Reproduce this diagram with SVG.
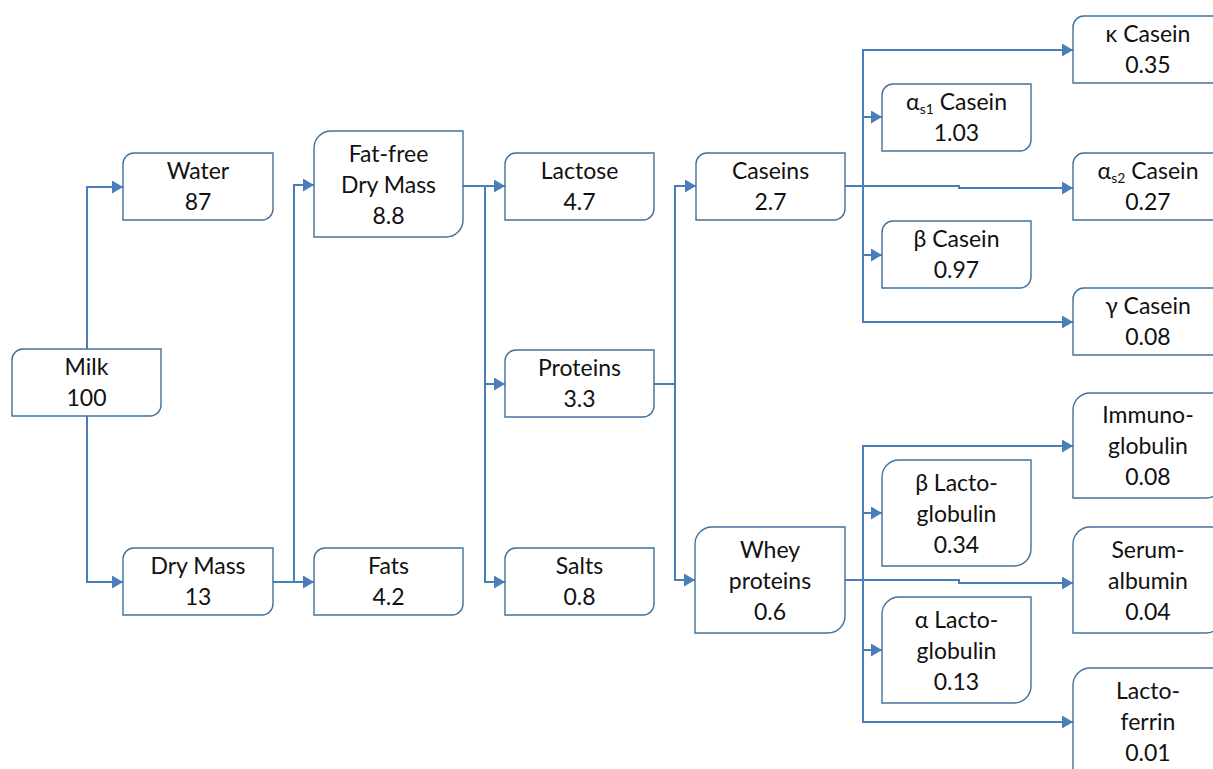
<svg xmlns="http://www.w3.org/2000/svg" width="1213" height="769" viewBox="0 0 1213 769">
<defs>
<style>
.box{fill:#fff;stroke:#41719c;stroke-width:1.4}
.t{font-family:Lato,"DejaVu Sans",sans-serif;font-size:23px;fill:#111;text-anchor:middle}
.sub{font-size:14px}
.c{fill:none;stroke:#4a7ebb;stroke-width:2}
.a{marker-end:url(#arr)}
</style>
<marker id="arr" markerUnits="userSpaceOnUse" markerWidth="12" markerHeight="14" refX="11" refY="6.5" orient="auto">
<path d="M0,0 L11,6.5 L0,13 z" fill="#4a7ebb"/>
</marker>
</defs>
<rect width="1213" height="769" fill="#fff"/>
<g id="connectors">
<path class="c a" d="M87,349 V187 H123"/>
<path class="c a" d="M87,416 V582 H123"/>
<path class="c a" d="M273,582 H294 V185 H314"/>
<path class="c a" d="M273,582 H314"/>
<path class="c a" d="M463,186 H505"/>
<path class="c a" d="M485,186 V384 H505"/>
<path class="c a" d="M485,186 V582 H505"/>
<path class="c a" d="M654,384 H675 V186 H696"/>
<path class="c a" d="M675,384 V580 H695"/>
<path class="c a" d="M845,186 H863 V50 H1073"/>
<path class="c a" d="M863,117 H882"/>
<path class="c a" d="M845,186 H959 V188 H1073"/>
<path class="c a" d="M863,255 H882"/>
<path class="c a" d="M863,186 V322 H1073"/>
<path class="c a" d="M845,580 H863 V446 H1073"/>
<path class="c a" d="M863,513 H882"/>
<path class="c a" d="M845,580 H959 V583 H1073"/>
<path class="c a" d="M863,650 H882"/>
<path class="c a" d="M863,580 V722 H1073"/>
</g>
<g id="milk"><path class="box" d="M23,349 H161 V405 A11,11 0 0 1 150,416 H12 V360 A11,11 0 0 1 23,349 Z"/>
<text class="t" x="86.5" y="375">Milk</text><text class="t" x="86.5" y="406">100</text></g>
<g id="water"><path class="box" d="M134,153 H273 V209 A11,11 0 0 1 262,220 H123 V164 A11,11 0 0 1 134,153 Z"/>
<text class="t" x="198" y="179">Water</text><text class="t" x="198" y="210">87</text></g>
<g id="drymass"><path class="box" d="M134,548 H273 V604 A11,11 0 0 1 262,615 H123 V559 A11,11 0 0 1 134,548 Z"/>
<text class="t" x="198" y="574">Dry Mass</text><text class="t" x="198" y="605">13</text></g>
<g id="fatfree"><path class="box" d="M331,131 H463 V220 A17,17 0 0 1 446,237 H314 V148 A17,17 0 0 1 331,131 Z"/>
<text class="t" x="388.5" y="162">Fat-free</text><text class="t" x="388.5" y="193">Dry Mass</text><text class="t" x="388.5" y="224">8.8</text></g>
<g id="fats"><path class="box" d="M325,548 H463 V604 A11,11 0 0 1 452,615 H314 V559 A11,11 0 0 1 325,548 Z"/>
<text class="t" x="388.5" y="574">Fats</text><text class="t" x="388.5" y="605">4.2</text></g>
<g id="lactose"><path class="box" d="M516,153 H654 V209 A11,11 0 0 1 643,220 H505 V164 A11,11 0 0 1 516,153 Z"/>
<text class="t" x="579.5" y="179">Lactose</text><text class="t" x="579.5" y="210">4.7</text></g>
<g id="proteins"><path class="box" d="M516,350 H654 V406 A11,11 0 0 1 643,417 H505 V361 A11,11 0 0 1 516,350 Z"/>
<text class="t" x="579.5" y="376">Proteins</text><text class="t" x="579.5" y="407">3.3</text></g>
<g id="salts"><path class="box" d="M516,548 H654 V604 A11,11 0 0 1 643,615 H505 V559 A11,11 0 0 1 516,548 Z"/>
<text class="t" x="579.5" y="574">Salts</text><text class="t" x="579.5" y="605">0.8</text></g>
<g id="caseins"><path class="box" d="M707,153 H845 V209 A11,11 0 0 1 834,220 H696 V164 A11,11 0 0 1 707,153 Z"/>
<text class="t" x="770.5" y="179">Caseins</text><text class="t" x="770.5" y="210">2.7</text></g>
<g id="whey"><path class="box" d="M712,527 H845 V616 A17,17 0 0 1 828,633 H695 V544 A17,17 0 0 1 712,527 Z"/>
<text class="t" x="770" y="558">Whey</text><text class="t" x="770" y="589">proteins</text><text class="t" x="770" y="620">0.6</text></g>
<g id="kappa"><path class="box" d="M1084,16 H1223 V72 A11,11 0 0 1 1212,83 H1073 V27 A11,11 0 0 1 1084,16 Z"/>
<text class="t" x="1148" y="42">κ Casein</text><text class="t" x="1148" y="73">0.35</text></g>
<g id="alphas1"><path class="box" d="M893,84 H1031 V140 A11,11 0 0 1 1020,151 H882 V95 A11,11 0 0 1 893,84 Z"/>
<text class="t" x="956.5" y="110">α<tspan class="sub" dy="4">s1</tspan><tspan dy="-4"> Casein</tspan></text><text class="t" x="956.5" y="141">1.03</text></g>
<g id="alphas2"><path class="box" d="M1084,153 H1223 V209 A11,11 0 0 1 1212,220 H1073 V164 A11,11 0 0 1 1084,153 Z"/>
<text class="t" x="1148" y="179">α<tspan class="sub" dy="4">s2</tspan><tspan dy="-4"> Casein</tspan></text><text class="t" x="1148" y="210">0.27</text></g>
<g id="beta"><path class="box" d="M893,221 H1031 V277 A11,11 0 0 1 1020,288 H882 V232 A11,11 0 0 1 893,221 Z"/>
<text class="t" x="956.5" y="247">β Casein</text><text class="t" x="956.5" y="278">0.97</text></g>
<g id="gamma"><path class="box" d="M1084,288 H1223 V344 A11,11 0 0 1 1212,355 H1073 V299 A11,11 0 0 1 1084,288 Z"/>
<text class="t" x="1148" y="314">γ Casein</text><text class="t" x="1148" y="345">0.08</text></g>
<g id="immuno"><path class="box" d="M1090,393 H1223 V481 A17,17 0 0 1 1206,498 H1073 V410 A17,17 0 0 1 1090,393 Z"/>
<text class="t" x="1148" y="423">Immuno-</text><text class="t" x="1148" y="454">globulin</text><text class="t" x="1148" y="485">0.08</text></g>
<g id="betalacto"><path class="box" d="M899,460 H1031 V549 A17,17 0 0 1 1014,566 H882 V477 A17,17 0 0 1 899,460 Z"/>
<text class="t" x="956.5" y="491">β Lacto-</text><text class="t" x="956.5" y="522">globulin</text><text class="t" x="956.5" y="553">0.34</text></g>
<g id="serum"><path class="box" d="M1090,527 H1223 V616 A17,17 0 0 1 1206,633 H1073 V544 A17,17 0 0 1 1090,527 Z"/>
<text class="t" x="1148" y="558">Serum-</text><text class="t" x="1148" y="589">albumin</text><text class="t" x="1148" y="620">0.04</text></g>
<g id="alphalacto"><path class="box" d="M899,597 H1031 V686 A17,17 0 0 1 1014,703 H882 V614 A17,17 0 0 1 899,597 Z"/>
<text class="t" x="956.5" y="628">α Lacto-</text><text class="t" x="956.5" y="659">globulin</text><text class="t" x="956.5" y="690">0.13</text></g>
<g id="lactoferrin"><path class="box" d="M1090,668 H1223 V757 A17,17 0 0 1 1206,774 H1073 V685 A17,17 0 0 1 1090,668 Z"/>
<text class="t" x="1148" y="699">Lacto-</text><text class="t" x="1148" y="730">ferrin</text><text class="t" x="1148" y="761">0.01</text></g>
</svg>
